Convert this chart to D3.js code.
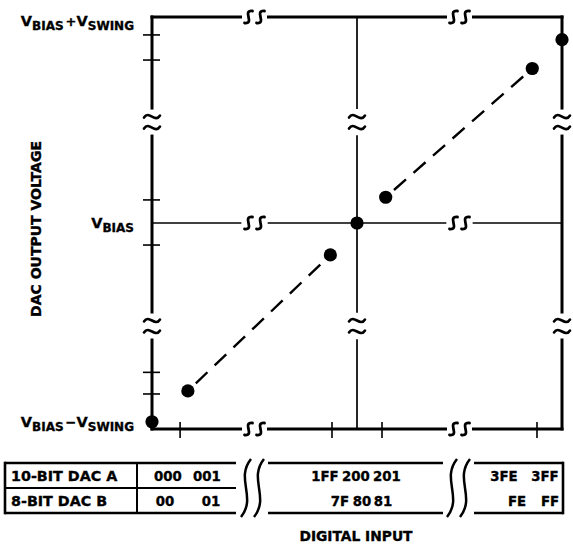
<!DOCTYPE html>
<html><head><meta charset="utf-8">
<script src="https://cdn.jsdelivr.net/npm/d3@7"></script>
<style>
body{margin:0;background:#fff;}
svg{display:block;}
text{font-family:"DejaVu Sans",sans-serif;font-weight:bold;fill:#000;stroke:#000;stroke-width:0.35;}
</style>
</head><body>
<svg id="c" width="573" height="544"></svg>
<script>
// ---- data ----
const codesA = ["000","001","1FF","200","201","3FE","3FF"];   // 10-bit DAC A input codes
const codesB = ["00","01","7F","80","81","FE","FF"];          // 8-bit DAC B input codes
// position of each code along the (broken) input axis, -1 .. +1
const inputPos = [-1, -0.825, -0.13, 0, 0.14, 0.855, 1];
// output voltage = VBIAS + k * VSWING, k
const outputK = [-0.965, -0.815, -0.155, 0, 0.125, 0.75, 0.89];
// dashed segments (index pairs)
const dashedPairs = [[1,2],[4,5]];
// tick marks
const leftTicks = [0.913, 0.791, 0.112, -0.107, -0.725, -0.83];
const bottomTicks = [-0.863, -0.122, 0.122, 0.878];
// axis break positions
const xBreaks = [-0.5, 0.5];
const yBreaks = [0.49, -0.5];
const yLabels = [
  {k: 1, parts: ["V","BIAS","+","V","SWING"]},
  {k: 0, parts: ["V","BIAS"]},
  {k: -1, parts: ["V","BIAS","\u2212","V","SWING"]}
];
const rowNames = ["10-BIT DAC A", "8-BIT DAC B"];
const yTitle = "DAC OUTPUT VOLTAGE";
const xTitle = "DIGITAL INPUT";

// ---- layout ----
const L = 152, R = 562, T = 17, B = 429;
const svg = d3.select("#c");
const x = d3.scaleLinear().domain([-1, 1]).range([L, R]);
const y = d3.scaleLinear().domain([-1, 1]).range([B, T]);
const g = svg.append("g");

function hLine(yy, x0, x1, breaks, sw) {
  let start = x0;
  const segs = [];
  breaks.forEach(b => { segs.push([start, b - 14]); start = b + 14; });
  segs.push([start, x1]);
  segs.forEach(s => g.append("line").attr("x1", s[0]).attr("x2", s[1])
    .attr("y1", yy).attr("y2", yy).attr("stroke", "#000").attr("stroke-width", sw)
    .attr("stroke-linecap", "square"));
  breaks.forEach(b => [-6, 6].forEach(dx => {
    const cx = b + dx;
    g.append("path")
      .attr("d", `M${cx+4},${yy-6}C${cx-7},${yy-7} ${cx+7},${yy+7} ${cx-4},${yy+6}`)
      .attr("fill", "none").attr("stroke", "#000").attr("stroke-width", 2.8)
      .attr("stroke-linecap", "round");
  }));
}
function vLine(xx, y0, y1, breaks, sw) {
  let start = y0;
  const segs = [];
  breaks.forEach(b => { segs.push([start, b - 14]); start = b + 14; });
  segs.push([start, y1]);
  segs.forEach(s => g.append("line").attr("y1", s[0]).attr("y2", s[1])
    .attr("x1", xx).attr("x2", xx).attr("stroke", "#000").attr("stroke-width", sw)
    .attr("stroke-linecap", "square"));
  breaks.forEach(b => [-5.5, 5.5].forEach(dy => {
    const cy = b + dy;
    g.append("path")
      .attr("d", `M${xx-8},${cy+1}C${xx-3},${cy-7} ${xx+3},${cy+7} ${xx+8},${cy-1}`)
      .attr("fill", "none").attr("stroke", "#000").attr("stroke-width", 2.6)
      .attr("stroke-linecap", "round");
  }));
}

const xb = xBreaks.map(x).sort((a,b)=>a-b);
const yb = yBreaks.map(y).sort((a,b)=>a-b);
// frame
hLine(y(1), x(-1), x(1), xb, 3);
hLine(y(-1), x(-1), x(1), xb, 3);
vLine(x(-1), y(1), y(-1), yb, 3);
vLine(x(1), y(1), y(-1), yb, 3);
// centre cross
hLine(y(0), x(-1), x(1), xb, 1.7);
vLine(x(0), y(1), y(-1), yb, 1.7);

// ticks
leftTicks.forEach(k => g.append("line").attr("x1", x(-1) - 9).attr("x2", x(-1) + 8)
  .attr("y1", y(k)).attr("y2", y(k)).attr("stroke", "#000").attr("stroke-width", 1.6));
bottomTicks.forEach(k => g.append("line").attr("y1", y(-1) - 7).attr("y2", y(-1) + 9)
  .attr("x1", x(k)).attr("x2", x(k)).attr("stroke", "#000").attr("stroke-width", 1.6));

// dashed lines
dashedPairs.forEach(([i, j]) => {
  const x1 = x(inputPos[i]), y1 = y(outputK[i]), x2 = x(inputPos[j]), y2 = y(outputK[j]);
  const len = Math.hypot(x2 - x1, y2 - y1), ux = (x2 - x1) / len, uy = (y2 - y1) / len;
  const off = 11;
  g.append("line").attr("x1", x1 + ux * off).attr("y1", y1 + uy * off)
    .attr("x2", x2 - ux * off).attr("y2", y2 - uy * off)
    .attr("stroke", "#000").attr("stroke-width", 2.4).attr("stroke-dasharray", "16,10");
});
// dots
g.selectAll("circle.pt").data(inputPos).join("circle").attr("class", "pt")
  .attr("cx", (d) => x(d)).attr("cy", (d, i) => y(outputK[i])).attr("r", 6.6).attr("fill", "#000");

// y labels
const labelOffsets = {"1": 9, "0": 5, "-1": -2};
yLabels.forEach(lb => {
  const t = svg.append("text").attr("x", 134).attr("y", y(lb.k) + labelOffsets[String(lb.k)])
    .attr("text-anchor", "end");
  let sub = false;
  lb.parts.forEach((p) => {
    const isV = p === "V";
    const isOp = p === "+" || p === "\u2212";
    const ts = t.append("tspan").text(p);
    if (isV || isOp) {
      ts.attr("font-size", isOp ? 13 : 14.5);
      if (sub) { ts.attr("dy", -4); sub = false; }
      if (isOp) ts.attr("dx", 2);
    } else {
      ts.attr("font-size", 12).attr("dy", 4);
      sub = true;
    }
  });
});
// y title
svg.append("text").attr("transform", `translate(41,${y(0) + 6}) rotate(-90)`)
  .attr("text-anchor", "middle").attr("font-size", 14).text(yTitle);

// ---- table ----
const tT = 463, tM = 488, tB = 513, tL = 5, tR = 563, colDiv = 137;
const segs = [[tL, 236], [268, 443], [474, tR]];
const tg = svg.append("g").attr("stroke", "#000").attr("fill", "none");
segs.forEach(s => {
  [tT, tB].forEach(yy => tg.append("line").attr("x1", s[0]).attr("x2", s[1]).attr("y1", yy).attr("y2", yy).attr("stroke-width", 2.6));
});
tg.append("line").attr("x1", tL).attr("x2", 236).attr("y1", tM).attr("y2", tM).attr("stroke-width", 2);
tg.append("line").attr("x1", tL).attr("x2", tL).attr("y1", tT - 1.3).attr("y2", tB + 1.3).attr("stroke-width", 2.6);
tg.append("line").attr("x1", tR).attr("x2", tR).attr("y1", tT - 1.3).attr("y2", tB + 1.3).attr("stroke-width", 2.6);
tg.append("line").attr("x1", colDiv).attr("x2", colDiv).attr("y1", tT).attr("y2", tB).attr("stroke-width", 2);
[246, 259, 452, 465].forEach(cx => {
  tg.append("path").attr("d", `M${cx+5},${tT-4}C${cx-11},${tT+16} ${cx+11},${tB-16} ${cx-5},${tB+4}`)
    .attr("stroke-width", 2.5);
});
// table text
const rowBase = [481, 506];
rowNames.forEach((n, i) => svg.append("text").attr("x", 11).attr("y", rowBase[i]).attr("font-size", 14.3).text(n));
const tableXA = [168, 207, 325, 356, 387, 504, 545];
const tableXB = [165, 211, 340, 362, 383, 517, 550];
codesA.forEach((c, i) => svg.append("text").attr("x", tableXA[i]).attr("y", rowBase[0])
  .attr("text-anchor", "middle").attr("font-size", 13.3).text(c));
codesB.forEach((c, i) => svg.append("text").attr("x", tableXB[i]).attr("y", rowBase[1])
  .attr("text-anchor", "middle").attr("font-size", 13.3).text(c));
svg.append("text").attr("x", 356).attr("y", 541).attr("text-anchor", "middle").attr("font-size", 13.8).text(xTitle);
</script>
</body></html>
